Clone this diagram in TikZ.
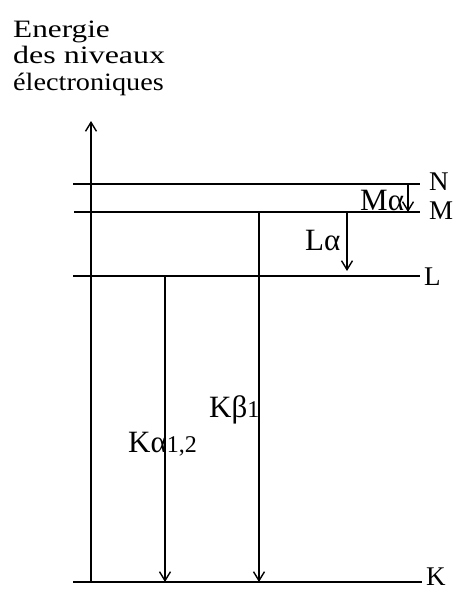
\documentclass[tikz,border=0pt]{standalone}
\usepackage{fontspec}
\setmainfont{Liberation Serif}
\usetikzlibrary{arrows.meta}
\begin{document}
\begin{tikzpicture}[x=1pt,y=-1pt,
  level/.style={line width=2pt},
  trans/.style={line width=1.8pt,-{Straight Barb[length=9pt,width=11pt,line width=1.4pt]}},
  lab/.style={inner sep=0pt,anchor=base west,font=\fontsize{31}{33}\selectfont},
  lvl/.style={inner sep=0pt,anchor=base west,font=\fontsize{27}{29}\selectfont},
  ttl/.style={inner sep=0pt,anchor=base west,font=\fontsize{25}{27}\selectfont}]
\useasboundingbox (0,0) rectangle (456,592);
% title
\node[ttl] (t1) at (13,37) {\scalebox{1.25}[1]{Energie}};
\node[ttl] (t2) at (13,63) {\scalebox{1.28}[1]{des niveaux}};
\node[ttl] (t3) at (13,90) {\scalebox{1.13}[1]{électroniques}};
% level end points
\coordinate (Na) at (73,184); \coordinate (Nb) at (420,184);
\coordinate (Ma) at (74,212); \coordinate (Mb) at (420,212);
\coordinate (La) at (73,276); \coordinate (Lb) at (420,276);
\coordinate (Ka) at (73,582); \coordinate (Kb) at (422,582);
\draw[level] (Na) -- (Nb);
\draw[level] (Ma) -- (Mb);
\draw[level] (La) -- (Lb);
\draw[level] (Ka) -- (Kb);
% axis
\coordinate (A0) at (91,582); \coordinate (A1) at (91,121);
\draw[trans] (A0) -- (A1);
% level labels
\node[lvl] (N) at (429,190) {N};
\node[lvl] (M) at (429,219) {M};
\node[lvl] (L) at (424,285) {L};
\node[lvl] (K) at (426,585) {K};
% transitions
\coordinate (ma0) at (408,184); \coordinate (ma1) at (408,212);
\draw[trans] (ma0) -- (ma1);
\coordinate (la0) at (347,212); \coordinate (la1) at (347,271);
\draw[trans] (la0) -- (la1);
\coordinate (ka0) at (165,276); \coordinate (ka1) at (165,582);
\draw[trans] (ka0) -- (ka1);
\coordinate (kb0) at (259,212); \coordinate (kb1) at (259,582);
\draw[trans] (kb0) -- (kb1);
% transition labels
\node[lab] (Mal) at (360,210) {Mα};
\node[lab] (Lal) at (305,250) {Lα};
\node[lab] (Kal) at (128,452) {Kα{\fontsize{24}{26}\selectfont1,2}};
\node[lab] (Kbl) at (209,417) {Kβ{\fontsize{24}{26}\selectfont1}};
\end{tikzpicture}
\end{document}
